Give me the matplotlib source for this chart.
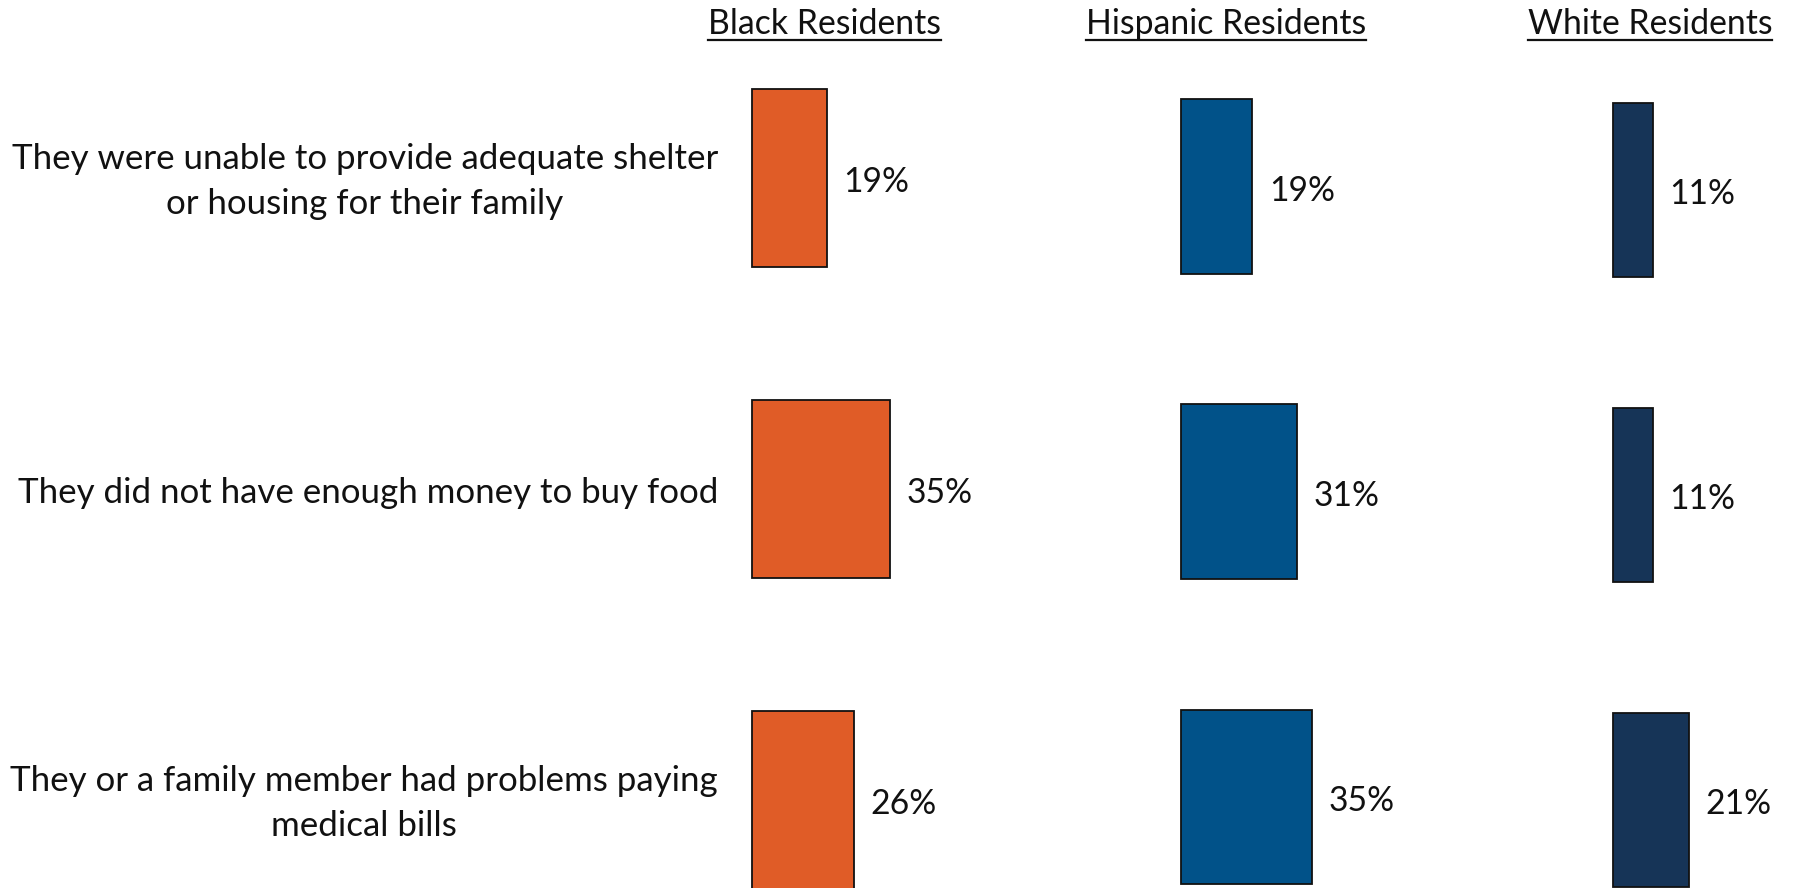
import matplotlib
matplotlib.use("Agg")
import matplotlib.pyplot as plt
from matplotlib.transforms import blended_transform_factory, ScaledTranslation
from matplotlib.lines import Line2D

# ---- data -------------------------------------------------------------
questions = [
    "They were unable to provide adequate shelter\nor housing for their family",
    "They did not have enough money to buy food",
    "They or a family member had problems paying\nmedical bills",
]
groups = ["Black Residents", "Hispanic Residents", "White Residents"]
black_pct = [19, 35, 26]
hispanic_pct = [19, 31, 35]
white_pct = [11, 11, 21]
colors = ["#E05C27", "#015289", "#163457"]

# ---- layout (pixels on a 1793 x 888 canvas) ---------------------------
W, H = 1793, 888
DPI = 100
FONT = "Lato"

# per panel: bar left edge, px per percentage point, top/bottom of axes, bar thickness
panels = [
    dict(left=752, scale=3.93, top=22.5, bottom=955.5, thick=0.572, title_x=824),
    dict(left=1181, scale=3.74, top=33.9, bottom=949.6, thick=0.573, title_x=1226),
    dict(left=1613, scale=3.60, top=37.6, bottom=951.9, thick=0.571, title_x=1650),
]
XMAX = 40

fig = plt.figure(figsize=(W / DPI, H / DPI), dpi=DPI)
fig.patch.set_facecolor("white")

values = [black_pct, hispanic_pct, white_pct]
axes = []
for vals, color, p in zip(values, colors, panels):
    ax = fig.add_axes([p["left"] / W, (H - p["bottom"]) / H,
                       XMAX * p["scale"] / W, (p["bottom"] - p["top"]) / H])
    ax.set_xlim(0, XMAX)
    ax.set_ylim(len(questions) - 0.5, -0.5)
    ax.axis("off")
    ypos = list(range(len(questions)))
    ax.barh(ypos, vals, height=p["thick"], color=color, edgecolor="#111111",
            linewidth=1.3, clip_on=False)
    for y, v in zip(ypos, vals):
        ax.annotate(f"{v}%", xy=(v, y), xytext=(12.0, -3.2), textcoords="offset points",
                    ha="left", va="center", fontsize=24.2, family=FONT, color="#111111")
    axes.append(ax)

# question labels, centred on the rows of the first panel
shift = ScaledTranslation(0, -3.5 / DPI, fig.dpi_scale_trans)
trans = blended_transform_factory(fig.transFigure, axes[0].transData) + shift
for i, q in enumerate(questions):
    axes[0].text(718 / W, i, q, transform=trans, ha="right", va="center",
                 multialignment="center", fontsize=25.1, family=FONT,
                 color="#111111", linespacing=1.5)

# underlined group headers
fig.canvas.draw()
renderer = fig.canvas.get_renderer()
for g, p in zip(groups, panels):
    t = fig.text(p["title_x"] / W, (H - 34.5) / H, g, ha="center", va="baseline",
                 fontsize=24.3, family=FONT, color="#111111")
    bb = t.get_window_extent(renderer=renderer)
    y_line = (H - 40) / H
    fig.add_artist(Line2D([bb.x0 / W, bb.x1 / W], [y_line, y_line],
                          transform=fig.transFigure, color="#111111", linewidth=1.6))

fig.savefig("out.png", dpi=DPI, facecolor="white")
